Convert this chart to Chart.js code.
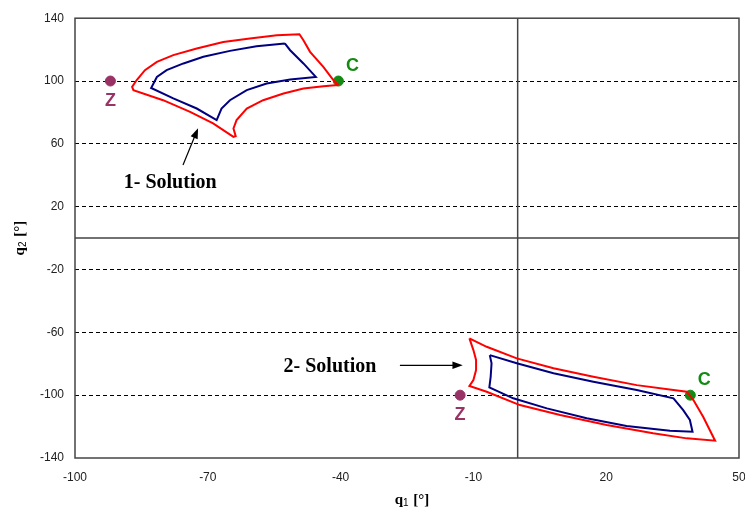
<!DOCTYPE html>
<html>
<head>
<meta charset="utf-8">
<script src="https://cdn.jsdelivr.net/npm/chart.js@4/dist/chart.umd.min.js"></script>
<style>
  html, body { margin: 0; padding: 0; background: #fff; }
  #wrap { width: 745px; height: 513px; }
</style>
</head>
<body>
<div id="wrap"><canvas id="ws"></canvas></div>
<script>
// solution 1 - outer (red) and inner (blue) contours
const sol1OuterQ1 = [-40.5, -41.6, -43.9, -46.9, -48.4, -49.3, -54.4, -60.5, -66.5, -72.5, -77.8, -81.5, -84.2, -86.1, -87.1, -86.8, -80.1, -74, -68.8, -64.2, -63.7, -64.2, -63.5, -61.2, -57.5, -52.9, -48.4, -43.9, -40.5];
const sol1OuterQ2 = [97.4, 100.5, 109, 118.6, 126, 129.8, 129.2, 127.1, 124.9, 120.7, 116.5, 112.2, 106.9, 100.5, 96.3, 94.2, 87.8, 80.4, 73, 64.5, 64.9, 69.8, 75.1, 82.5, 87.8, 92.1, 95.3, 96.7, 97.4];
const sol1InnerQ1 = [-52.6, -59, -65, -71, -75.5, -79.3, -81.5, -82.8, -77.8, -72.5, -68, -66.9, -65, -61.2, -56.7, -51.4, -45.6, -48.4, -51.4, -52.6];
const sol1InnerQ2 = [123.9, 122.2, 119.2, 115.4, 111.2, 106.9, 102.6, 95.6, 88.9, 82.5, 75.1, 82.5, 87.8, 94.2, 98.4, 101, 102.6, 111.2, 119.6, 123.9];

// solution 2
const sol2OuterQ1 = [-10.9, -7, -0.2, 8.1, 17.1, 26.9, 35.2, 38.2, 39.7, 41.9, 44.6, 38.2, 30.6, 20.1, 9.6, 0.5, -7, -10.9, -10, -9.4, -9.4, -10, -10.9];
const sol2OuterQ2 = [-63.8, -69.2, -76.6, -82.9, -88.3, -93.6, -96.7, -97.8, -103.1, -113.7, -129, -127.5, -124.3, -119, -112.6, -106.3, -97.8, -94.2, -90.4, -84, -77.6, -71.3, -63.8];
const sol2InnerQ1 = [-6.3, -0.2, 8.1, 17.1, 26.9, 35.2, 37.4, 38.9, 39.5, 34.4, 24.6, 15.6, 6.6, -1, -6.4, -6.1, -5.9, -6.3];
const sol2InnerQ2 = [-74.5, -79.7, -86.1, -91.4, -96.7, -102, -109.5, -115.8, -123.3, -122.6, -119.6, -114.7, -108.4, -102, -95, -88.3, -79.7, -74.5];

// points Z and C of each solution
const zQ1 = [-92, -13];
const zQ2 = [100, -100];
const cQ1 = [-40.5, 39];
const cQ2 = [100, -100];

// text notes with arrow (start -> tip), in data units
const noteText = ["1- Solution", "2- Solution"];
const noteQ1 = [-78.5, -42.4];
const noteQ2 = [35, -82];
const arrowFrom = [[-75.6, 46.5], [-26.6, -81]];
const arrowTo = [[-72.2, 70], [-12.4, -81]];

const xTitle = "q", xSub = "1", yTitle = "q", ySub = "2";

const zip = (a, b) => a.map((v, i) => ({ x: v, y: b[i] }));

function curve(q1, q2, color) {
    return { data: zip(q1, q2), showLine: true, borderColor: color, borderWidth: 2, pointRadius: 0, fill: false, tension: 0 };
}

const frame = {
    id: 'frame',
    beforeDatasetsDraw(chart) {
        const { ctx, chartArea: a, scales: { x, y } } = chart;
        ctx.save();
        ctx.strokeStyle = '#444';
        ctx.lineWidth = 1.5;
        ctx.strokeRect(a.left, a.top, a.right - a.left, a.bottom - a.top);
        ctx.beginPath();
        ctx.moveTo(x.getPixelForValue(0), a.top);
        ctx.lineTo(x.getPixelForValue(0), a.bottom);
        ctx.moveTo(a.left, y.getPixelForValue(0));
        ctx.lineTo(a.right, y.getPixelForValue(0));
        ctx.stroke();
        ctx.restore();
    },
    afterDatasetsDraw(chart) {
        const { ctx, chartArea: a, scales: { x, y } } = chart;
        ctx.save();
        // Z and C labels
        ctx.font = "bold 18px 'Liberation Sans', Arial";
        ctx.textAlign = 'center';
        ctx.textBaseline = 'middle';
        zQ1.forEach((v, i) => {
            ctx.fillStyle = '#993366';
            ctx.fillText('Z', x.getPixelForValue(v), y.getPixelForValue(zQ2[i]) + 20);
        });
        cQ1.forEach((v, i) => {
            ctx.fillStyle = '#138a13';
            ctx.fillText('C', x.getPixelForValue(v) + 14, y.getPixelForValue(cQ2[i]) - 15);
        });
        // notes + arrows
        ctx.fillStyle = '#000';
        ctx.font = "bold 20px 'Liberation Serif', 'Times New Roman'";
        noteText.forEach((t, i) => {
            ctx.fillText(t, x.getPixelForValue(noteQ1[i]), y.getPixelForValue(noteQ2[i]));
            const x0 = x.getPixelForValue(arrowFrom[i][0]), y0 = y.getPixelForValue(arrowFrom[i][1]);
            const x1 = x.getPixelForValue(arrowTo[i][0]), y1 = y.getPixelForValue(arrowTo[i][1]);
            const ang = Math.atan2(y1 - y0, x1 - x0);
            ctx.strokeStyle = '#000';
            ctx.lineWidth = 1.2;
            ctx.beginPath();
            ctx.moveTo(x0, y0);
            ctx.lineTo(x1 - 6 * Math.cos(ang), y1 - 6 * Math.sin(ang));
            ctx.stroke();
            ctx.beginPath();
            ctx.moveTo(x1, y1);
            ctx.lineTo(x1 - 11 * Math.cos(ang - 0.35), y1 - 11 * Math.sin(ang - 0.35));
            ctx.lineTo(x1 - 11 * Math.cos(ang + 0.35), y1 - 11 * Math.sin(ang + 0.35));
            ctx.closePath();
            ctx.fill();
        });
        // axis titles, with small subscripts
        const drawTitle = (main, sub, cx, cy) => {
            const big = "bold 15px 'Liberation Serif', 'Times New Roman'";
            const small = "10px 'Liberation Sans', Arial";
            ctx.font = big; const w1 = ctx.measureText(main).width;
            ctx.font = small; const w2 = ctx.measureText(sub).width;
            ctx.font = big; const w3 = ctx.measureText(' [°]').width;
            let px = cx - (w1 + w2 + 1 + w3) / 2;
            ctx.textAlign = 'left';
            ctx.font = big; ctx.fillText(main, px, cy);
            px += w1;
            ctx.font = small; ctx.fillText(sub, px, cy + 3);
            px += w2 + 1;
            ctx.font = big; ctx.fillText(' [°]', px, cy);
        };
        drawTitle(xTitle, xSub, (a.left + a.right) / 2 + 5, 500);
        ctx.translate(20, (a.top + a.bottom) / 2);
        ctx.rotate(-Math.PI / 2);
        drawTitle(yTitle, ySub, 0, 0);
        ctx.restore();
    }
};

new Chart(document.getElementById('ws'), {
    type: 'scatter',
    data: {
        datasets: [
            curve(sol1OuterQ1, sol1OuterQ2, '#ff0000'),
            curve(sol1InnerQ1, sol1InnerQ2, '#000080'),
            curve(sol2OuterQ1, sol2OuterQ2, '#ff0000'),
            curve(sol2InnerQ1, sol2InnerQ2, '#000080'),
            { data: zip(zQ1, zQ2), backgroundColor: '#993366', borderColor: '#993366', pointRadius: 5 },
            { data: zip(cQ1, cQ2), backgroundColor: '#138a13', borderColor: '#138a13', pointRadius: 5 }
        ]
    },
    options: {
        responsive: true,
        maintainAspectRatio: false,
        animation: false,
        layout: { padding: { top: 17, right: 5, bottom: 0, left: 0 } },
        plugins: { legend: { display: false }, tooltip: { enabled: false } },
        scales: {
            x: {
                min: -100, max: 50,
                afterFit(s) { s.height = 55; s.paddingLeft = 0; s.paddingRight = 0; },
                ticks: { stepSize: 30, color: '#222', padding: 12, font: { family: "'Liberation Sans', Arial", size: 12 }, maxRotation: 0 },
                grid: { display: false, drawTicks: false },
                border: { display: false }
            },
            y: {
                min: -140, max: 140,
                afterFit(s) { s.width = 75; },
                ticks: { stepSize: 40, color: '#222', padding: 11, font: { family: "'Liberation Sans', Arial", size: 12 } },
                grid: {
                    drawTicks: false,
                    color: c => (c.tick && Math.abs(c.tick.value) < 140 && c.tick.value !== 0) ? '#000' : 'rgba(0,0,0,0)',
                    lineWidth: 1
                },
                border: { display: false, dash: [4, 3] }
            }
        }
    },
    plugins: [frame]
});
</script>
</body>
</html>
